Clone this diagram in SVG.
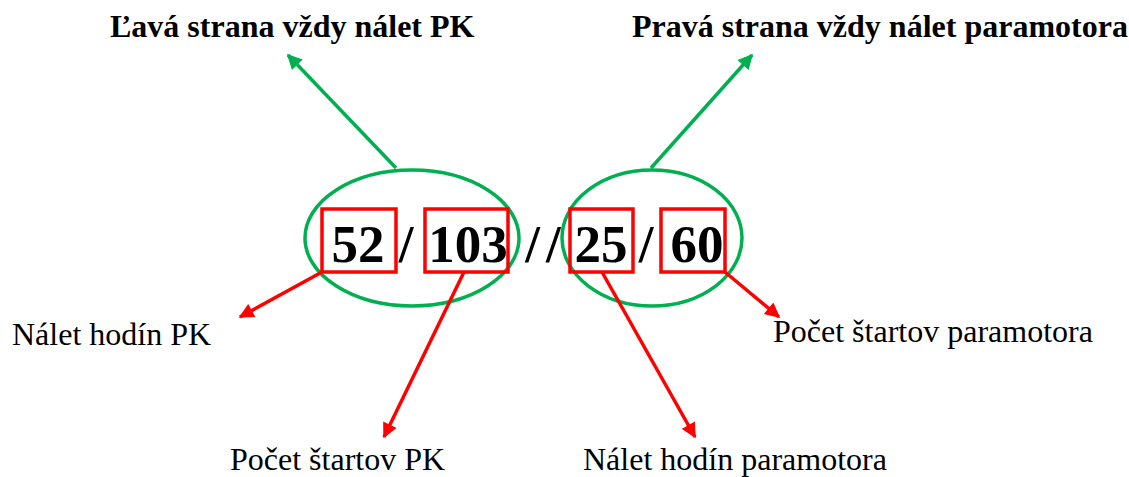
<svg xmlns="http://www.w3.org/2000/svg" width="1129" height="477" viewBox="0 0 1129 477">
<style>
.lbl{font-family:"Liberation Serif","Times New Roman",serif;font-size:32px;fill:#000}
.b{font-weight:bold}
.num{font-family:"Liberation Serif","Times New Roman",serif;font-size:53px;font-weight:bold;fill:#000;text-anchor:middle}
.ell{fill:none;stroke:#00B050;stroke-width:3.5}
.box{fill:none;stroke:#FF0000;stroke-width:3.5}
.g{stroke:#00B050;stroke-width:3.5;fill:none}
.r{stroke:#FF0000;stroke-width:3.5;fill:none}
</style>
<defs>
<marker id="ag" viewBox="0 0 10 10" refX="9" refY="5" markerWidth="17" markerHeight="15" markerUnits="userSpaceOnUse" orient="auto"><path d="M0,0 L10,5 L0,10 Z" fill="#00B050"/></marker>
<marker id="ar" viewBox="0 0 10 10" refX="9" refY="5" markerWidth="17" markerHeight="15" markerUnits="userSpaceOnUse" orient="auto"><path d="M0,0 L10,5 L0,10 Z" fill="#FF0000"/></marker>
</defs>
<rect width="1129" height="477" fill="#fff"/>
<g id="left-group">
<ellipse class="ell" cx="412" cy="238" rx="107" ry="68"/>
</g>
<g id="right-group">
<ellipse class="ell" cx="652" cy="238" rx="90" ry="68"/>
</g>
<g id="box-52"><rect class="box" x="322" y="209" width="74" height="63"/><text class="num" x="358" y="262">52</text></g>
<g id="box-103"><rect class="box" x="425" y="209" width="83" height="63"/><text class="num" x="468" y="262">103</text></g>
<g id="box-25"><rect class="box" x="570" y="209" width="63" height="63"/><text class="num" x="601" y="262">25</text></g>
<g id="box-60"><rect class="box" x="661" y="209" width="64" height="63"/><text class="num" x="697" y="262">60</text></g>
<g id="separators">
<text class="num" x="406" y="262">/</text>
<text class="num" x="546" y="262" letter-spacing="6">//</text>
<text class="num" x="646" y="262">/</text>
</g>
<g id="title-left"><text class="lbl b" x="110" y="37">Ľavá strana vždy nálet PK</text></g>
<g id="title-right"><text class="lbl b" x="632" y="37">Pravá strana vždy nálet paramotora</text></g>
<g id="lbl-nalet-pk"><text class="lbl" x="12" y="345">Nálet hodín PK</text></g>
<g id="lbl-start-pk"><text class="lbl" x="230" y="470">Počet štartov PK</text></g>
<g id="lbl-nalet-pm"><text class="lbl" x="583" y="470">Nálet hodín paramotora</text></g>
<g id="lbl-start-pm"><text class="lbl" x="773" y="342">Počet štartov paramotora</text></g>
<g id="connectors">
<line class="g" x1="396" y1="168" x2="288" y2="55" marker-end="url(#ag)"/>
<line class="g" x1="651" y1="168" x2="752" y2="55" marker-end="url(#ag)"/>
<line class="r" x1="322" y1="272" x2="240" y2="317" marker-end="url(#ar)"/>
<line class="r" x1="464" y1="272" x2="384" y2="437" marker-end="url(#ar)"/>
<line class="r" x1="602" y1="272" x2="695" y2="437" marker-end="url(#ar)"/>
<line class="r" x1="725" y1="272" x2="779" y2="317" marker-end="url(#ar)"/>
</g>
</svg>
